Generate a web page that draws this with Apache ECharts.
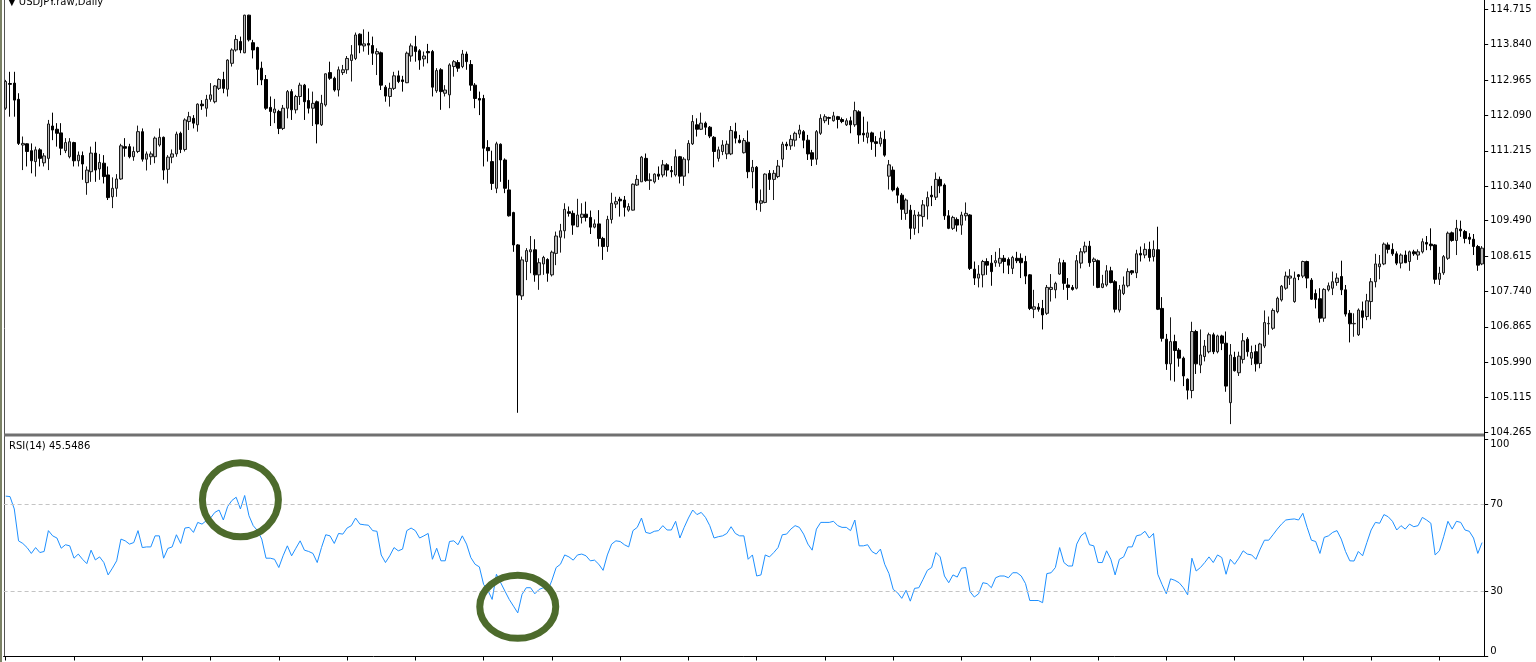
<!DOCTYPE html>
<html>
<head>
<meta charset="utf-8">
<script src="https://cdn.jsdelivr.net/npm/echarts@6/dist/echarts.min.js"></script>
<style>
html,body{margin:0;padding:0;background:#fff;}
#c{width:1536px;height:662px;}
</style>
</head>
<body>
<div id="c"></div>
<script>
// ---- data (USDJPY daily) ----
const title = "\u25BC USDJPY.raw,Daily";
const rsiLabel = "RSI(14) 45.5486";
// each row: [open, high, low, close]
const ohlc = [
[112.27,112.97,112.23,112.93],[112.88,113.17,112.06,112.86],[112.89,113.17,112.06,112.47],[112.49,112.64,111.36,111.40],
[111.36,111.57,110.74,111.40],[111.39,111.40,110.83,111.20],[111.22,111.40,110.66,110.97],[110.95,111.32,110.58,111.24],
[111.24,111.28,110.83,111.03],[110.92,111.16,110.83,111.09],[111.03,111.98,110.74,111.88],[111.83,112.16,111.48,111.73],
[111.75,111.90,111.32,111.65],[111.66,111.90,111.11,111.28],[111.22,111.53,111.16,111.42],[111.07,111.53,111.03,111.44],
[111.42,111.44,110.83,110.97],[110.97,111.20,110.83,111.11],[111.10,111.20,110.50,110.89],[110.43,110.83,110.13,110.74],
[110.70,111.32,110.45,111.16],[111.16,111.44,110.45,110.74],[110.77,111.14,110.50,110.93],[110.91,111.11,110.41,110.58],
[110.62,110.83,110.00,110.06],[110.08,110.56,109.80,110.29],[110.29,110.64,110.08,110.52],[110.52,111.39,110.50,111.34],
[111.32,111.53,111.07,111.28],[111.32,111.39,111.03,111.07],[111.07,111.32,110.97,111.20],[111.20,111.84,111.16,111.69],
[111.69,111.77,110.95,111.01],[111.01,111.20,110.73,111.14],[111.07,111.20,110.87,111.14],[111.07,111.57,110.91,111.53],
[111.36,111.77,111.32,111.55],[111.55,111.57,110.50,110.74],[110.76,111.11,110.41,111.06],[111.06,111.25,110.91,111.14],
[111.14,111.69,111.07,111.63],[111.65,111.69,111.16,111.25],[111.25,112.02,111.20,111.98],[111.94,112.18,111.73,112.06],
[112.02,112.10,111.77,111.90],[111.86,112.39,111.69,112.37],[112.37,112.47,112.23,112.33],[112.27,112.60,112.06,112.49],
[112.49,112.89,112.43,112.60],[112.43,112.84,112.39,112.82],[112.76,113.01,112.72,112.98],[112.98,113.17,112.64,112.76],
[112.74,113.48,112.56,113.46],[113.38,113.75,113.30,113.71],[113.71,114.08,113.67,113.97],[113.92,114.04,113.63,113.71],
[113.64,114.58,113.63,114.57],[114.57,114.58,113.92,113.96],[113.89,113.96,113.50,113.71],[113.77,113.79,112.84,113.23],
[113.26,113.42,112.84,112.97],[112.98,113.09,112.23,112.27],[112.29,112.56,111.83,112.19],[112.16,112.50,111.90,112.25],
[112.19,112.23,111.63,111.77],[111.77,112.35,111.73,112.27],[112.27,112.72,112.02,112.68],[112.68,112.74,111.98,112.23],
[112.23,112.60,112.14,112.56],[112.56,112.90,112.35,112.84],[112.84,112.87,111.98,112.43],[112.46,112.76,112.14,112.27],
[112.27,112.68,111.83,112.39],[112.43,112.46,111.40,111.88],[111.86,112.60,111.83,112.39],[112.35,113.13,112.31,113.12],
[113.15,113.42,112.97,113.01],[113.01,113.05,112.68,112.72],[112.72,113.30,112.56,113.22],[113.15,113.34,113.09,113.22],
[113.22,113.56,113.12,113.50],[113.45,113.83,112.93,113.59],[113.50,114.14,113.46,114.08],[114.10,114.12,113.63,113.83],
[113.81,114.22,113.67,113.86],[113.87,114.16,113.59,113.83],[113.82,114.04,113.34,113.63],[113.61,113.75,113.09,113.67],
[113.64,113.67,112.72,112.84],[112.79,112.84,112.43,112.57],[112.56,112.90,112.31,112.76],[112.76,113.17,112.72,113.07],
[113.07,113.20,112.89,112.93],[112.97,113.07,112.68,112.93],[112.90,113.67,112.89,113.63],[113.56,113.87,113.42,113.81],
[113.79,114.06,113.42,113.67],[113.69,113.73,113.22,113.46],[113.49,113.67,113.30,113.56],[113.67,113.86,113.38,113.64],
[113.67,113.71,112.56,112.79],[112.70,113.26,112.65,113.20],[113.22,113.26,112.23,112.68],[112.64,112.84,112.56,112.72],
[112.60,113.38,112.27,113.34],[113.30,113.46,113.05,113.42],[113.40,113.46,113.17,113.26],[113.30,113.71,113.26,113.61],
[113.61,113.67,113.22,113.42],[113.35,113.46,112.70,112.84],[112.84,112.89,112.27,112.51],[112.51,112.68,112.10,112.47],
[112.51,112.60,110.83,111.28],[111.30,111.48,110.95,111.22],[110.95,111.22,110.25,110.41],[110.29,111.44,110.17,111.39],
[111.38,111.40,110.45,110.99],[110.99,111.03,110.17,110.29],[110.25,110.50,109.59,109.61],[109.69,109.71,108.72,108.89],
[108.89,108.91,104.74,107.65],[107.63,108.60,107.53,108.52],[108.48,108.81,108.02,108.75],[108.72,109.11,108.19,108.77],
[108.77,109.03,107.98,108.15],[108.15,108.56,107.78,108.45],[108.42,108.62,108.15,108.58],[108.53,108.56,107.98,108.19],
[108.15,108.75,108.11,108.71],[108.68,109.22,108.39,109.11],[109.08,109.41,108.70,109.24],[109.24,109.92,109.05,109.77],
[109.71,109.84,109.59,109.67],[109.67,109.74,109.14,109.38],[109.34,110.03,109.34,109.63],[109.57,109.92,109.42,109.65],
[109.65,109.96,109.47,109.57],[109.57,109.74,109.16,109.33],[109.33,109.52,109.30,109.41],[109.41,109.75,108.85,109.05],
[109.05,109.09,108.52,108.85],[108.85,109.61,108.72,109.52],[109.52,110.18,109.42,109.92],[109.90,110.08,109.80,109.96],
[110.02,110.08,109.59,109.98],[110.00,110.10,109.59,109.82],[109.75,109.92,109.71,109.84],[109.75,110.41,109.74,110.39],
[110.37,110.62,110.35,110.51],[110.45,111.09,110.45,111.06],[111.03,111.15,110.45,110.48],[110.48,110.66,110.25,110.50],
[110.45,110.66,110.41,110.64],[110.64,110.83,110.50,110.59],[110.62,110.99,110.56,110.87],[110.87,110.91,110.58,110.74],
[110.73,110.84,110.56,110.70],[110.62,111.25,110.58,111.07],[111.07,111.09,110.41,110.59],[110.59,111.06,110.35,111.01],
[110.99,111.48,110.66,111.40],[111.39,112.10,111.36,111.94],[111.86,112.02,111.57,111.75],[111.75,112.16,111.73,111.90],
[111.90,111.94,111.61,111.80],[111.80,111.83,111.53,111.58],[111.55,111.58,110.81,111.20],[111.03,111.32,110.95,111.24],
[111.20,111.48,111.11,111.36],[111.14,111.47,111.01,111.38],[111.14,111.83,111.11,111.72],[111.69,111.91,111.40,111.53],
[111.48,111.61,111.40,111.42],[111.17,111.53,111.15,111.47],[111.43,111.72,110.54,110.70],[110.70,110.99,110.29,110.81],
[110.81,110.84,109.75,109.93],[109.92,110.26,109.71,109.98],[109.94,110.66,109.92,110.64],[110.66,110.74,110.25,110.51],
[110.51,110.74,110.00,110.66],[110.58,110.99,110.54,110.84],[111.01,111.44,110.81,111.38],[111.38,111.44,111.24,111.34],
[111.34,111.61,111.24,111.50],[111.48,111.69,111.32,111.65],[111.63,111.86,111.53,111.73],[111.69,111.73,111.28,111.48],
[111.48,111.61,110.99,111.14],[111.17,111.24,110.84,111.01],[111.01,111.73,110.87,111.69],[111.65,112.12,111.61,112.02],
[111.96,112.12,111.90,112.06],[112.04,112.06,111.86,112.02],[111.96,112.18,111.94,112.08],[112.06,112.08,111.77,111.99],
[111.99,112.04,111.90,111.94],[111.86,112.02,111.83,111.96],[111.96,112.06,111.65,111.86],[111.86,112.43,111.81,112.21],
[112.18,112.22,111.39,111.61],[111.65,112.06,111.44,111.61],[111.55,111.94,111.40,111.66],[111.66,111.69,111.24,111.44],
[111.44,111.58,111.07,111.40],[111.39,111.69,111.32,111.53],[111.50,111.72,111.07,111.11],[110.59,110.99,110.26,110.87],
[110.74,110.83,110.21,110.25],[110.29,110.33,109.92,110.12],[110.12,110.17,109.51,109.77],[109.67,110.04,109.51,110.00],
[109.75,109.88,109.03,109.30],[109.30,109.75,109.14,109.63],[109.61,109.71,109.18,109.63],[109.59,110.00,109.34,109.88],
[109.85,110.21,109.52,110.06],[110.12,110.35,109.85,110.08],[110.07,110.68,110.00,110.51],[110.51,110.58,110.17,110.35],
[110.37,110.41,109.51,109.61],[109.61,109.75,109.28,109.30],[109.30,109.61,109.26,109.57],[109.52,109.57,109.22,109.38],
[109.38,109.71,109.14,109.63],[109.61,109.94,109.49,109.67],[109.63,109.65,108.27,108.31],[108.29,108.48,107.90,108.07],
[108.07,108.39,107.84,108.17],[108.15,108.52,107.84,108.48],[108.48,108.56,108.15,108.39],[108.44,108.64,107.88,108.23],
[108.45,108.72,108.35,108.50],[108.44,108.81,108.35,108.56],[108.56,108.64,108.19,108.48],[108.53,108.58,108.17,108.39],
[108.31,108.62,108.17,108.58],[108.56,108.72,108.44,108.50],[108.56,108.68,108.07,108.45],[108.48,108.62,107.92,108.12],
[108.15,108.17,107.28,107.32],[107.30,107.78,107.08,107.36],[107.35,107.45,107.24,107.30],[107.32,107.53,106.80,107.16],
[107.20,107.90,107.16,107.84],[107.79,108.17,107.49,107.84],[107.78,107.98,107.57,107.94],[108.17,108.56,108.15,108.45],
[108.45,108.52,107.78,107.94],[107.90,108.07,107.53,107.84],[107.84,107.90,107.76,107.79],[107.82,108.64,107.79,108.50],
[108.44,108.81,108.31,108.72],[108.72,108.97,108.68,108.86],[108.86,108.99,108.35,108.45],[108.48,108.58,107.88,108.54],
[108.50,108.53,107.82,107.84],[107.84,108.15,107.82,107.93],[107.90,108.39,107.86,108.25],[108.25,108.35,107.94,107.96],
[107.98,108.02,107.22,107.30],[107.28,107.90,107.22,107.78],[107.69,108.11,107.65,107.90],[107.88,108.31,107.84,108.23],
[108.25,108.27,108.15,108.20],[108.20,108.77,108.07,108.67],[108.68,108.85,108.48,108.64],[108.64,108.93,108.56,108.78],
[108.78,108.97,108.48,108.58],[108.60,109.00,108.48,108.78],[108.77,109.34,107.28,107.30],[107.32,107.60,106.50,106.58],
[106.56,106.69,105.80,105.95],[105.95,107.10,105.54,106.50],[106.50,106.67,105.51,106.28],[106.29,106.34,105.88,106.09],
[106.09,106.13,105.40,105.65],[105.57,105.59,105.07,105.30],[105.29,106.99,105.10,106.75],[106.75,106.79,105.70,105.95],
[105.92,106.80,105.72,106.17],[106.13,106.54,106.01,106.39],[106.25,106.72,106.21,106.67],[106.67,106.72,106.19,106.25],
[106.25,106.67,106.21,106.64],[106.64,106.67,106.29,106.46],[106.46,106.75,105.26,105.40],[104.99,106.44,104.46,106.17],
[106.11,106.25,105.76,105.78],[105.73,106.25,105.65,106.14],[106.06,106.71,105.96,106.52],[106.56,106.61,106.13,106.25],
[106.09,106.40,105.92,106.23],[106.25,106.42,105.76,105.95],[105.96,106.47,105.84,106.44],[106.39,107.27,106.34,106.97],
[106.94,107.12,106.67,106.95],[106.83,107.32,106.79,107.27],[107.24,107.61,107.20,107.57],[107.53,107.90,107.49,107.87],
[107.82,108.23,107.78,108.12],[108.07,108.29,107.90,108.12],[107.49,108.23,107.46,108.07],[108.15,108.17,108.02,108.11],
[108.12,108.50,108.07,108.48],[108.48,108.50,107.82,108.07],[108.02,108.07,107.53,107.55],[107.69,107.79,107.32,107.54],
[107.56,107.82,106.97,107.08],[107.08,107.82,106.99,107.79],[107.78,107.96,107.74,107.88],[107.82,108.23,107.65,107.98],
[107.96,108.19,107.88,108.07],[108.11,108.50,107.65,107.78],[107.78,107.90,107.12,107.18],[107.20,107.28,106.48,106.94],
[106.94,107.20,106.62,106.95],[106.67,107.32,106.64,107.28],[107.26,107.49,106.83,107.10],[107.12,107.68,107.03,107.51],
[107.49,108.07,107.05,107.98],[107.98,108.67,107.84,108.42],[108.35,108.64,108.04,108.42],[108.42,108.95,108.39,108.91],
[108.89,108.95,108.68,108.78],[108.78,108.93,108.62,108.67],[108.67,108.73,108.39,108.44],[108.44,108.68,108.31,108.64],
[108.64,108.75,108.44,108.45],[108.48,108.75,108.25,108.72],[108.72,108.77,108.62,108.67],[108.64,108.78,108.52,108.72],
[108.72,109.05,108.68,108.97],[108.95,109.11,108.76,108.91],[108.91,109.30,108.76,108.87],[108.89,108.91,107.93,108.04],
[108.04,108.35,107.90,108.19],[108.20,108.64,108.15,108.60],[108.56,109.22,108.52,109.18],[109.19,109.22,108.97,109.00],
[109.00,109.51,108.64,109.30],[109.28,109.49,109.09,109.24],[109.22,109.26,108.93,109.05],[109.08,109.18,108.91,109.03],
[109.03,109.16,108.64,108.85],[108.85,108.89,108.25,108.39],[108.42,108.86,108.39,108.81]
];
const rsi = [
73.9,73.7,68.0,53.3,52.1,50.2,47.5,50.2,47.9,48.4,58.0,55.6,54.6,49.9,51.5,51.0,45.3,47.2,44.8,42.8,
49.0,44.5,45.9,43.3,37.6,40.7,44.1,54.1,53.3,51.8,52.5,58.0,50.2,50.5,50.5,55.6,55.6,45.3,49.8,50.5,
56.1,52.1,59.2,59.5,57.2,61.8,61.0,62.6,63.8,66.4,67.5,62.9,69.1,71.9,73.4,68.0,74.2,64.9,60.3,58.0,
54.1,45.3,45.3,44.8,41.0,46.4,51.0,46.4,49.9,53.3,49.0,48.4,47.5,43.3,50.2,56.1,55.6,52.1,56.7,56.4,
59.2,60.3,63.8,61.0,60.7,60.5,58.0,57.7,46.8,43.3,46.4,50.2,48.7,49.5,58.0,59.2,58.0,54.6,55.6,56.7,
44.8,49.9,44.1,44.1,53.0,53.3,51.5,55.6,51.8,45.6,42.5,41.3,33.2,30.5,26.3,37.9,34.0,30.1,26.3,23.2,
20.1,28.6,31.7,31.7,28.9,30.9,31.7,30.1,35.1,41.0,42.5,46.8,45.9,44.4,46.8,47.2,46.4,44.1,44.4,42.5,
39.7,46.8,51.8,53.3,53.0,51.5,50.5,58.0,59.5,63.8,57.2,56.7,57.7,58.0,60.3,58.3,58.3,62.3,54.6,59.5,
63.8,67.5,65.4,66.4,64.1,60.3,54.6,55.2,55.6,56.7,59.8,56.7,55.6,55.6,44.8,46.8,37.1,37.6,46.8,45.9,
47.9,50.2,56.1,56.4,58.7,60.3,59.5,56.4,51.8,49.0,58.7,61.8,61.8,61.8,62.3,60.3,59.5,59.5,58.0,62.9,
51.0,51.0,51.5,48.4,47.2,49.5,42.5,38.2,30.9,29.4,26.8,30.5,25.5,31.4,31.7,35.6,39.7,41.0,47.9,45.9,
37.1,34.0,37.6,36.6,40.7,41.0,29.9,27.4,28.9,34.0,33.6,31.7,36.3,37.1,37.1,36.3,38.6,38.6,37.1,33.6,
25.8,25.8,25.8,24.8,38.2,38.6,41.0,50.2,43.3,41.7,41.7,51.8,55.6,57.2,51.5,51.0,43.3,43.3,48.7,44.8,
37.6,44.8,45.9,50.5,50.5,55.6,56.1,57.7,54.6,56.7,37.9,33.2,28.9,35.8,35.1,34.0,31.7,28.4,45.3,39.4,
41.0,43.3,45.9,43.3,46.8,45.6,37.9,44.8,42.5,45.3,48.7,47.2,46.8,44.8,49.5,53.6,53.6,56.1,58.7,61.0,
62.9,63.2,63.4,62.9,66.0,59.5,53.6,53.0,47.5,54.9,55.6,57.2,58.0,54.1,48.4,44.1,44.0,48.4,46.4,52.5,
58.3,61.8,61.4,65.4,64.4,62.3,58.3,60.3,58.7,61.0,59.8,60.3,64.1,62.9,61.4,46.8,48.7,55.2,62.3,58.7,
62.3,61.8,58.3,57.7,54.6,47.5,52.5
];
const priceTicks = [104.265,105.115,105.990,106.865,107.740,108.615,109.490,110.340,111.215,112.090,112.965,113.840,114.715];
const rsiTicks = [0,30,70,100];
const rsiLevels = [70,30];
const priceMin = 104.2404, priceMax = 114.945;
// annotation circles, placed in data space of the RSI pane: [barIndex, rsiValue]
const marks = [[55.2,72.2],[119.5,22.9]];

// ---- chart ----
const bars = ohlc.map((_, i) => String(i));
const candleData = ohlc.map(r => [r[0], r[3], r[2], r[1]]);
const FONT = 'DejaVu Sans';
const chart = echarts.init(document.getElementById('c'), null, {renderer: 'canvas'});
const gridL = 3.6, gridW = 1480.6;
const option = {
  animation: false,
  backgroundColor: '#ffffff',
  grid: [
    {left: gridL, width: gridW, top: 0, height: 433},
    {left: gridL, width: gridW, top: 439.5, height: 217}
  ],
  xAxis: [
    {type: 'category', gridIndex: 0, data: bars, boundaryGap: true,
     axisLine: {show: false}, axisTick: {show: false}, axisLabel: {show: false}, splitLine: {show: false}},
    {type: 'category', gridIndex: 1, data: bars, boundaryGap: true,
     axisLine: {show: true, lineStyle: {color: '#000', width: 1}},
     axisTick: {show: true, alignWithLabel: true, length: 4, interval: (i) => i % 16 === 0, lineStyle: {color: '#000'}},
     axisLabel: {show: false}, splitLine: {show: false}}
  ],
  yAxis: [
    {type: 'value', gridIndex: 0, position: 'right', min: priceMin, max: priceMax, scale: true,
     axisLine: {show: true, lineStyle: {color: '#000', width: 1}},
     axisTick: {show: true, length: 4, customValues: priceTicks, lineStyle: {color: '#000'}},
     axisLabel: {show: true, customValues: priceTicks, formatter: v => Number(v).toFixed(3),
       color: '#000', fontFamily: FONT, fontSize: 10, margin: 6},
     splitLine: {show: false}},
    {type: 'value', gridIndex: 1, position: 'right', min: 0, max: 100,
     axisLine: {show: true, lineStyle: {color: '#000', width: 1}},
     axisTick: {show: true, length: 4, customValues: rsiTicks, lineStyle: {color: '#000'}},
     axisLabel: {show: true, customValues: rsiTicks, color: '#000', fontFamily: FONT, fontSize: 10, margin: 6,
       verticalAlignMinLabel: 'bottom', verticalAlignMaxLabel: 'top'},
     splitLine: {show: false}}
  ],
  series: [
    {type: 'candlestick', xAxisIndex: 0, yAxisIndex: 0, data: candleData, barWidth: 3,
     itemStyle: {color: '#b8b8b8', color0: '#000000', borderColor: '#1a1a1a', borderColor0: '#000000', borderWidth: 1}},
    {type: 'line', xAxisIndex: 1, yAxisIndex: 1, data: rsi, symbol: 'none', smooth: false,
     lineStyle: {color: '#1E90FF', width: 1},
     markLine: {silent: true, symbol: ['none', 'none'], label: {show: false},
       lineStyle: {color: '#c4c4c4', type: [4, 3], width: 1},
       data: rsiLevels.map(v => ({yAxis: v}))}}
  ]
};
chart.setOption(option);

const circleShapes = marks.map((m, k) => {
  const p = chart.convertToPixel({xAxisIndex: 1, yAxisIndex: 1}, m);
  return {type: 'ellipse', silent: true, z: 100,
    shape: {cx: p[0], cy: p[1], rx: 38, ry: k === 0 ? 37 : 31.5},
    style: {fill: 'none', stroke: '#4d6b2c', lineWidth: 7}};
});
chart.setOption({
  graphic: [
    {type: 'rect', silent: true, shape: {x: 0, y: 0, width: 2, height: 662}, style: {fill: '#7c8266'}},
    {type: 'line', silent: true, shape: {x1: 4.5, y1: 0, x2: 4.5, y2: 657}, style: {stroke: '#555', lineWidth: 1}},
    {type: 'rect', silent: true, shape: {x: 4, y: 433.5, width: 1481, height: 3}, style: {fill: '#707070'}},
    {type: 'line', silent: true, shape: {x1: 1484.5, y1: 0, x2: 1484.5, y2: 657}, style: {stroke: '#000', lineWidth: 1}},
    {type: 'text', silent: true, x: 8, y: -3, style: {text: title, fill: '#000', font: '10px "DejaVu Sans"'}},
    {type: 'text', silent: true, x: 9, y: 441, style: {text: rsiLabel, fill: '#000', font: '10px "DejaVu Sans"'}}
  ].concat(circleShapes)
});
</script>
</body>
</html>
